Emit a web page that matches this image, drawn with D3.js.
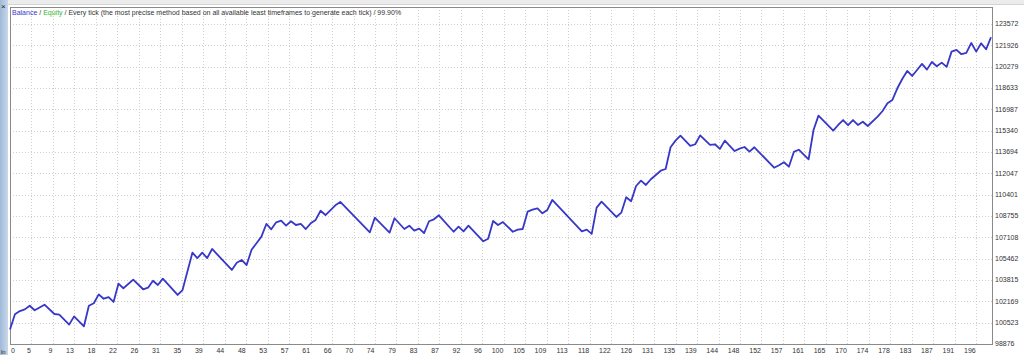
<!DOCTYPE html>
<html>
<head>
<meta charset="utf-8">
<script src="https://cdn.jsdelivr.net/npm/d3@7"></script>
<style>
  body { margin: 0; background: #fff; }
  svg { display: block; font-family: "Liberation Sans", Arial, sans-serif; }
</style>
</head>
<body>
<svg width="1024" height="355"></svg>
<script>
// trade number / balance after that trade (only turning points)
const tradeNo = [0, 1, 2, 3, 4, 5, 7, 9, 10, 12, 13, 15, 16, 17, 18, 19, 20, 21, 22, 23,
  25, 27, 28, 29, 30, 31, 34, 35, 37, 38, 39, 40, 41, 45, 46, 47, 48, 49, 50, 51,
  52, 53, 54, 55, 56, 57, 58, 59, 60, 61, 62, 63, 64, 66, 67, 73, 74, 77, 78, 80,
  81, 82, 83, 84, 85, 86, 87, 90, 91, 92, 93, 96, 97, 98, 99, 100, 102, 103, 104, 105,
  106, 107, 108, 109, 110, 116, 117, 118, 119, 120, 123, 124, 125, 126, 127, 128, 129, 130, 132, 133,
  134, 135, 136, 138, 139, 140, 142, 143, 144, 145, 147, 148, 149, 150, 151, 155, 156, 157, 158, 159,
  160, 162, 163, 164, 167, 168, 169, 170, 171, 172, 173, 174, 176, 177, 178, 179, 180, 181, 182, 183,
  184, 185, 186, 187, 188, 189, 190, 191, 192, 193, 194, 195, 196, 197, 198, 199];
const balance = [100000, 101170, 101420, 101550, 101830, 101480, 101910, 101190, 101140, 100370,
  101010, 100240, 101830, 102020, 102710, 102370, 102500, 102120, 103530, 103180,
  103840, 103100, 103220, 103760, 103430, 103920, 102660, 103040, 105920, 105510,
  105920, 105510, 106210, 104590, 105150, 105360, 104970, 106150, 106650, 107160,
  108140, 107730, 108270, 108390, 108010, 108350, 108060, 108140, 107750, 108190,
  108450, 109160, 108830, 109580, 109840, 107500, 108620, 107470, 108580, 107750,
  108010, 107620, 107780, 107440, 108350, 108500, 108810, 107540, 107930, 107570,
  108010, 106800, 107000, 108370, 108060, 108290, 107540, 107700, 107750, 109090,
  109240, 109350, 108960, 109220, 109990, 107570, 107700, 107370, 109400, 109860,
  108680, 109010, 110200, 109890, 111070, 111480, 111150, 111590, 112250, 112380,
  114060, 114570, 114950, 114160, 114290, 114980, 114240, 114290, 113930, 114570,
  113770, 113950, 114080, 113720, 114060, 112480, 112670, 112900, 112560, 113700,
  113870, 113130, 115390, 116500, 115340, 115780, 116160, 115760, 116160, 115780,
  116030, 115700, 116420, 116860, 117450, 117710, 118610, 119330, 119950, 119560,
  120020, 120490, 120050, 120640, 120310, 120590, 120260, 121440, 121570, 121240,
  121340, 122110, 121440, 122080, 121620, 122550];

const xTicks = [0, 5, 9, 13, 18, 22, 26, 31, 35, 39, 44, 48, 53, 57, 61, 66, 70, 74, 79, 83,
  87, 92, 96, 100, 105, 109, 113, 118, 122, 126, 131, 135, 139, 144, 148, 152, 157, 161, 165, 170,
  174, 178, 183, 187, 191, 196];
const yTicks = [98876, 100523, 102169, 103815, 105462, 107108, 108755, 110401, 112047,
  113694, 115340, 116987, 118633, 120279, 121926, 123572];

const svg = d3.select("svg");
const W = 1024, H = 355;
const plot = { left: 10, right: 992, top: 7, bottom: 344 };

// window chrome around the graph
svg.append("rect").attr("width", W).attr("height", H).attr("fill", "#fff");
const grad = svg.append("defs").append("linearGradient").attr("id", "side")
  .attr("x1", 0).attr("x2", 1);
grad.append("stop").attr("offset", 0).attr("stop-color", "#9fb9d8");
grad.append("stop").attr("offset", 1).attr("stop-color", "#c9d8ea");
svg.append("rect").attr("x", 0).attr("y", 0).attr("width", 8).attr("height", H).attr("fill", "url(#side)");
svg.append("rect").attr("x", 8).attr("y", 0).attr("width", W - 8).attr("height", 5).attr("fill", "#ececec");
svg.append("line").attr("x1", 8).attr("x2", W).attr("y1", 4.5).attr("y2", 4.5).attr("stroke", "#d4d4d4");
svg.append("text").attr("x", 1).attr("y", 9).attr("font-size", 8).attr("fill", "#222").text("×");
svg.append("text").attr("x", 1).attr("y", 354).attr("font-size", 6).attr("fill", "#222").text("ln");

// scales
const x = d3.scaleLinear().domain([0, 199]).range([plot.left, plot.right - 1]);
const y = d3.scaleLinear().domain([yTicks[0], yTicks[yTicks.length - 1]]).range([plot.bottom, 24]);
const gx = d3.scalePoint().domain(xTicks).range([x(0), x(xTicks[xTicks.length - 1])]);

// dotted grid
const grid = svg.append("g").attr("stroke", "#cfcfcf").attr("stroke-dasharray", "1,2");
grid.selectAll(".gy").data(yTicks.slice(1)).enter().append("line")
  .attr("x1", plot.left).attr("x2", plot.right)
  .attr("y1", (d) => Math.round(y(d)) + 0.5).attr("y2", (d) => Math.round(y(d)) + 0.5);
grid.selectAll(".gx").data(xTicks.slice(1)).enter().append("line")
  .attr("y1", plot.top).attr("y2", plot.bottom)
  .attr("x1", (d) => Math.round(gx(d)) + 0.5).attr("x2", (d) => Math.round(gx(d)) + 0.5);

// frame
svg.append("rect").attr("x", plot.left + 0.5).attr("y", plot.top + 0.5)
  .attr("width", plot.right - plot.left).attr("height", plot.bottom - plot.top)
  .attr("fill", "none").attr("stroke", "#8a8a8a");

// right axis labels
svg.append("g").selectAll("text").data(yTicks).enter().append("text")
  .attr("x", plot.right + 3).attr("y", (d) => y(d)).attr("dy", "0.35em")
  .attr("font-size", 7).attr("fill", "#333").text((d) => d);

// bottom axis labels
svg.append("g").selectAll("text").data(xTicks).enter().append("text")
  .attr("x", (d, i) => (i === 0 ? gx(d) + 1 : gx(d) - 0.5))
  .attr("y", 353)
  .attr("text-anchor", (d, i) => (i === 0 ? "start" : "end"))
  .attr("font-size", 7).attr("fill", "#333").text((d) => d);

// balance line
const line = d3.line().x((d, i) => x(tradeNo[i])).y((d) => y(d));
svg.append("path").datum(balance).attr("d", line)
  .attr("fill", "none").attr("stroke", "#3737c8").attr("stroke-width", 1.8)
  .attr("stroke-linejoin", "round");

// header text
const head = svg.append("text").attr("x", 12).attr("y", 15).attr("font-size", 7).attr("fill", "#333");
head.append("tspan").attr("fill", "#3737c8").text("Balance");
head.append("tspan").text(" / ");
head.append("tspan").attr("fill", "#2fb82f").text("Equity");
head.append("tspan").text(" / Every tick (the most precise method based on all available least timeframes to generate each tick) / 99.90%");
</script>
</body>
</html>
